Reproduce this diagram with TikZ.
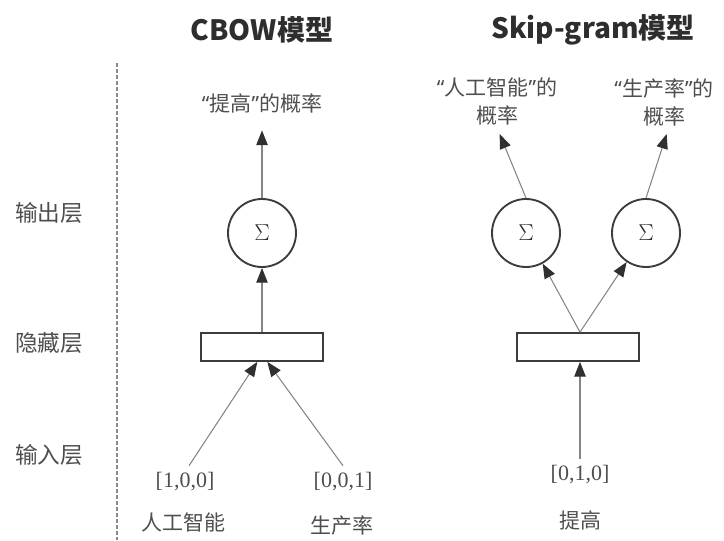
\documentclass[tikz,border=0pt]{standalone}
\usepackage{fontspec}
\setmainfont{Liberation Serif}
\newfontfamily\cjk{Noto Sans CJK SC}
\newfontfamily\latq{Noto Sans}
\newcommand{\ql}{{\latq “}}
\newcommand{\qr}{{\latq ”}}
\usetikzlibrary{arrows.meta}
\definecolor{txt}{HTML}{4E4E4E}
\definecolor{ttl}{HTML}{2E2E2E}
\definecolor{shapec}{HTML}{3C3C3C}
\definecolor{linec}{HTML}{858585}
\definecolor{tipc}{HTML}{303030}
\definecolor{dashc}{HTML}{8A8A8A}
\begin{document}
\begin{tikzpicture}[x=0.75pt,y=-0.75pt,
  lbl/.style={font=\cjk\fontsize{15.75pt}{21pt}\selectfont, text=txt, inner sep=2pt, align=center},
  side/.style={font=\cjk\fontsize{17pt}{20pt}\selectfont, text=txt, inner sep=2pt},
  ttlstyle/.style={font=\cjk\bfseries\fontsize{21pt}{25pt}\selectfont, text=ttl},
  vec/.style={font=\fontsize{16.5pt}{20pt}\selectfont, text=txt, inner sep=2pt},
  sumnode/.style={circle, draw=shapec, line width=1.4pt, minimum size=51pt, inner sep=0pt, font=\fontsize{16pt}{18pt}\selectfont, text=ttl},
  hid/.style={rectangle, draw=shapec, line width=1.3pt, minimum width=91.5pt, minimum height=21pt, inner sep=0pt},
  conn/.style={draw=linec, line width=0.8pt},
  arr/.style={conn, -{Triangle[length=11pt,width=8.5pt,color=tipc]}}
]
\useasboundingbox (0,0) rectangle (724,541);

% titles
\node[ttlstyle] (t1) at (262,30) {CBOW模型};
\node[ttlstyle] (t2) at (593,30) {Skip-gram模型};

% dashed separator
\coordinate (dtop) at (117,63);
\coordinate (dbot) at (117,540);
\draw[dashc, line width=0.8pt, dash pattern=on 3pt off 1.5pt] (dtop) -- (dbot);

% layer labels
\node[side] (l1) at (49,213) {输出层};
\node[side] (l2) at (49,343) {隐藏层};
\node[side] (l3) at (49,455) {输入层};

% CBOW
\node[lbl] (o1) at (262,103) {\ql 提高\qr 的概率};
\node[sumnode] (c1) at (262,233) {$\Sigma$};
\node[hid] (h1) at (262,347) {};
\node[vec] (i1) at (185,482) {[1,0,0]};
\node[vec] (i2) at (343,482) {[0,0,1]};
\node[lbl] (w1) at (183,522) {人工智能};
\node[lbl] (w2) at (342,526) {生产率};

\draw[arr] (c1.north) -- ([yshift=-11pt]o1.south);
\draw[arr] (h1.north) -- (c1.south);
\draw[arr] ([xshift=3pt,yshift=3pt]i1.north) -- ([xshift=-3.5pt]h1.south);
\draw[arr] ([yshift=3pt]i2.north) -- ([xshift=4pt]h1.south);

% Skip-gram
\node[lbl] (o2) at (497,102) {\ql 人工智能\qr 的\\概率};
\node[lbl] (o3) at (664,102) {\ql 生产率\qr 的\\概率};
\node[sumnode] (c2) at (526,233) {$\Sigma$};
\node[sumnode] (c3) at (646,233) {$\Sigma$};
\node[hid] (h2) at (578,347) {};
\node[vec] (i3) at (580,475) {[0,1,0]};
\node[lbl] (w3) at (580,520) {提高};

\draw[arr] (c2.north) -- ([xshift=2pt,yshift=-4pt]o2.south);
\draw[arr] (c3.north) -- ([xshift=2pt,yshift=-4pt]o3.south);
\draw[arr] ([xshift=1.5pt]h2.north) -- (c2);
\draw[arr] ([xshift=1.5pt]h2.north) -- (c3);
\draw[arr] ([yshift=3pt]i3.north) -- ([xshift=1.5pt]h2.south);
\end{tikzpicture}
\end{document}
